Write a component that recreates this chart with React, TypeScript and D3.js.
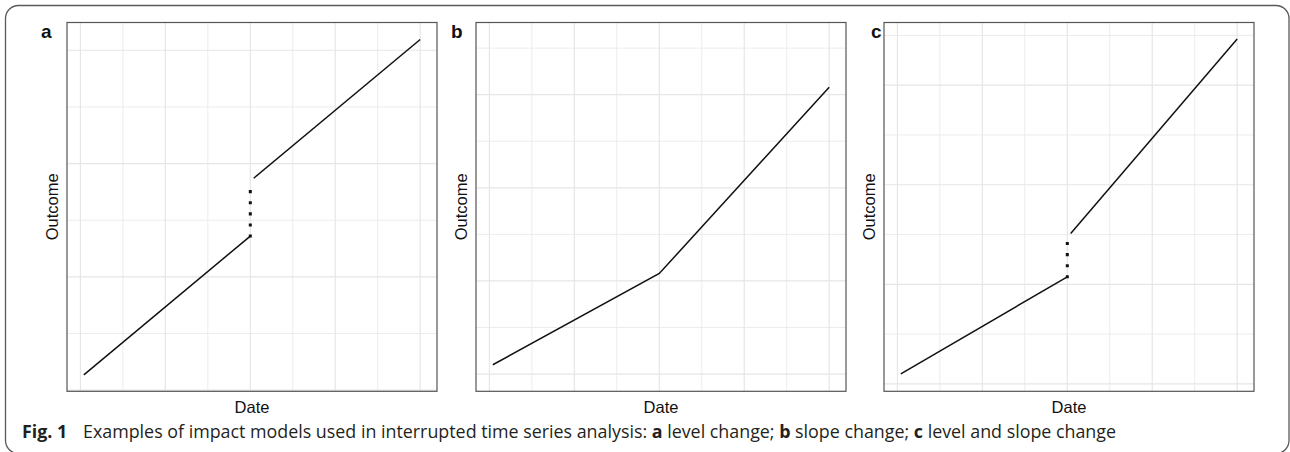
import React from 'react';
import * as d3 from 'd3';

// time index used on every panel (x axis is "Date", no tick labels)
const xDomain: [number, number] = [-3.95, 104.95];
const xMajor = [0, 25, 50, 75, 100];
const xMinor = [12.5, 37.5, 62.5, 87.5];

// panel a: level change
const aPreT = [1, 50];
const aPreY = [2.7, 27.2];
const aPostT = [51, 100];
const aPostY = [37.4, 61.9];
const aGapY = [27.2, 36.9];

// panel b: slope change
const bT = [1, 50, 100];
const bY = [2.0, 21.6, 61.6];

// panel c: level and slope change
const cPreT = [1, 50];
const cPreY = [2.0, 21.5];
const cPostT = [51, 100];
const cPostY = [30.2, 69.3];
const cGapY = [21.5, 29.4];

const yDomainA: [number, number] = [-0.2, 64.9];
const yDomainB: [number, number] = [-3.7, 75.5];
const yDomainC: [number, number] = [-1.5, 72.6];
const yMajorA = [0, 20, 40, 60];
const yMinorA = [10, 30, 50];
const yMajorBC = [0, 20, 40, 60];
const yMinorBC = [10, 30, 50, 70];

const panelLabels = ['a', 'b', 'c'];
const interruptionT = 50;

const zip = (t: number[], y: number[]) => t.map((d, i) => [d, y[i]] as [number, number]);

const Panel = ({ left, label, labelX, yDomain, yMajor, yMinor, solid, gap }) => {
    // Define the dimensions of the panel area
    const top = 22.5;
    const bottom = 391.3;
    const width = 370;

    const xScale = d3.scaleLinear().domain(xDomain).range([left, left + width]);
    const yScale = d3.scaleLinear().domain(yDomain).range([bottom, top]);
    const line = d3.line<[number, number]>().x((d) => xScale(d[0])).y((d) => yScale(d[1]));

    const font = '"Liberation Sans", Arial, sans-serif';
    const midY = (top + bottom) / 2;

    return (
        <g>
            {/* grid */}
            {yMinor.map((v) => (
                <line key={`ym${v}`} x1={left} x2={left + width} y1={yScale(v)} y2={yScale(v)} stroke="#ececec" strokeWidth={1} />
            ))}
            {xMinor.map((v) => (
                <line key={`xm${v}`} x1={xScale(v)} x2={xScale(v)} y1={top} y2={bottom} stroke="#ececec" strokeWidth={1} />
            ))}
            {yMajor.map((v) => (
                <line key={`yM${v}`} x1={left} x2={left + width} y1={yScale(v)} y2={yScale(v)} stroke="#e6e6e6" strokeWidth={1.2} />
            ))}
            {xMajor.map((v) => (
                <line key={`xM${v}`} x1={xScale(v)} x2={xScale(v)} y1={top} y2={bottom} stroke="#e6e6e6" strokeWidth={1.2} />
            ))}

            {/* series */}
            {solid.map((seg, i) => (
                <path key={`s${i}`} d={line(seg)} fill="none" stroke="#111" strokeWidth={1.5} />
            ))}
            {gap && (
                <path
                    d={line(gap)}
                    fill="none"
                    stroke="#111"
                    strokeWidth={3}
                    strokeDasharray="0.1 11"
                    strokeLinecap="square"
                />
            )}

            <rect x={left} y={top} width={width} height={bottom - top} fill="none" stroke="#555" strokeWidth={1.2} />

            {/* labels */}
            <text x={labelX} y={38} fontFamily={font} fontWeight="bold" fontSize={19} fill="#111">
                {label}
            </text>
            <text
                transform={`translate(${left - 9}, ${midY}) rotate(-90)`}
                textAnchor="middle"
                fontFamily={font}
                fontSize={16.5}
                fill="#111"
            >
                Outcome
            </text>
            <text x={left + width / 2} y={412.5} textAnchor="middle" fontFamily={font} fontSize={16.5} fill="#111">
                Date
            </text>
        </g>
    );
};

export default function App() {
    const capFont = '"Open Sans", "Noto Sans", sans-serif';
    return (
        <div style={{ position: 'absolute', left: 0, top: 0 }}>
            <svg width={1290} height={452} style={{ display: 'block', background: '#fff' }}>
                <rect x={5.5} y={5.5} width={1283.5} height={448} rx={13} ry={13} fill="none" stroke="#5a5a5a" strokeWidth={1.3} />

                <Panel
                    left={67}
                    label={panelLabels[0]}
                    labelX={41}
                    yDomain={yDomainA}
                    yMajor={yMajorA}
                    yMinor={yMinorA}
                    solid={[zip(aPreT, aPreY), zip(aPostT, aPostY)]}
                    gap={zip([interruptionT, interruptionT], aGapY)}
                />
                <Panel
                    left={476}
                    label={panelLabels[1]}
                    labelX={451}
                    yDomain={yDomainB}
                    yMajor={yMajorBC}
                    yMinor={yMinorBC}
                    solid={[zip(bT, bY)]}
                    gap={null}
                />
                <Panel
                    left={884}
                    label={panelLabels[2]}
                    labelX={871}
                    yDomain={yDomainC}
                    yMajor={yMajorBC}
                    yMinor={yMinorBC}
                    solid={[zip(cPreT, cPreY), zip(cPostT, cPostY)]}
                    gap={zip([interruptionT, interruptionT], cGapY)}
                />

                {/* caption */}
                <text x={22} y={438} fontFamily={capFont} fontSize={17.85} fill="#231f20">
                    <tspan fontWeight="bold">Fig. 1</tspan>
                    <tspan x={83}>Examples of impact models used in interrupted time series analysis: </tspan>
                    <tspan fontWeight="bold">a</tspan>
                    <tspan> level change; </tspan>
                    <tspan fontWeight="bold">b</tspan>
                    <tspan> slope change; </tspan>
                    <tspan fontWeight="bold">c</tspan>
                    <tspan> level and slope change</tspan>
                </text>
            </svg>
        </div>
    );
}
